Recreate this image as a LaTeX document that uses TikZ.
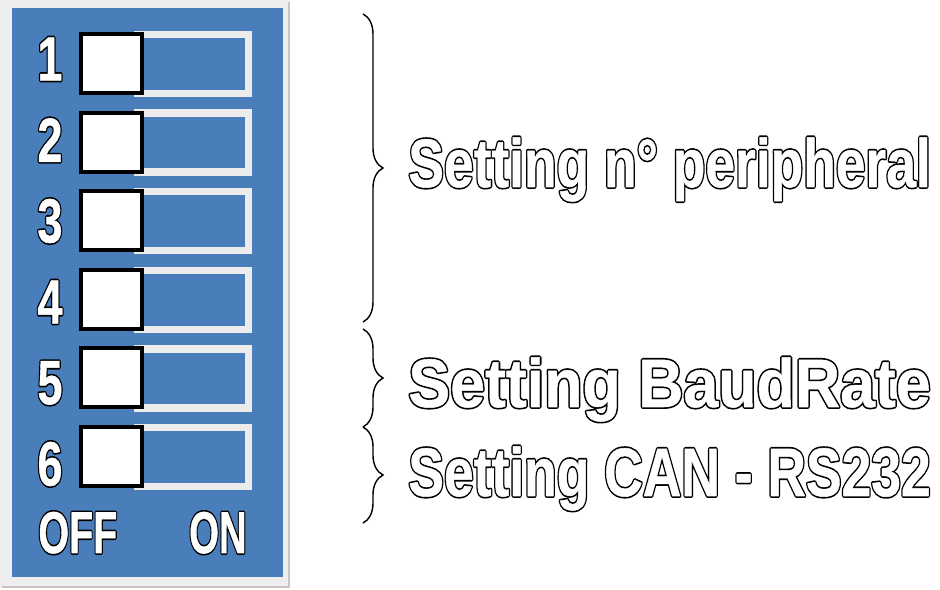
\documentclass[tikz,border=0pt]{standalone}
\usepackage{fontspec}
\setmainfont{Liberation Sans}
\usepackage{graphicx}
\usetikzlibrary{decorations.pathreplacing}

\definecolor{panelblue}{RGB}{74,126,187}
\definecolor{framegray}{RGB}{238,238,238}
\definecolor{slotgray}{RGB}{236,236,236}

% white letters with a black rim (pdf text render mode 2, two layers)
\newcommand{\hollow}[2]{\resizebox{#1}{\height}{%
  \rlap{\special{pdf:bcolor [0] [0]}\special{pdf:literal direct 2 Tr 2.2 w 1 j}#2\special{pdf:ecolor}}%
  \special{pdf:bcolor [1] [1]}\special{pdf:literal direct 2 Tr 0.3 w 1 j}%
  #2\special{pdf:literal direct 0 Tr}\special{pdf:ecolor}}}

\tikzset{
  slot/.style={draw=slotgray, line width=0.15cm, fill=panelblue},
  knob/.style={draw=black, line width=0.08cm, fill=white},
  digit/.style={inner sep=0, font=\bfseries\fontsize{35.5pt}{38pt}\selectfont},
  onoff/.style={inner sep=0, anchor=base, font=\bfseries\fontsize{33.5pt}{36pt}\selectfont},
  setting/.style={inner sep=0, anchor=base west, font=\bfseries\fontsize{39pt}{44pt}\selectfont},
  bracket/.style={decorate, decoration={brace, amplitude=0.4cm}, line width=0.8pt}
}

\begin{document}
\begin{tikzpicture}[x=0.02cm, y=-0.02cm]

\useasboundingbox (0,0) rectangle (940,590);

% dip switch panel
\fill[framegray] (0,0) rectangle (290,588);
\draw[color=gray!45, line width=1pt] (289,2)--(289,587)--(2,587);
\fill[panelblue] (12,8) rectangle (283,577);

\draw[slot] (138, 34.5) rectangle (248.5, 93.5);
\draw[slot] (138,113.1) rectangle (248.5,172.1);
\draw[slot] (138,191.7) rectangle (248.5,250.7);
\draw[slot] (138,270.3) rectangle (248.5,329.3);
\draw[slot] (138,348.9) rectangle (248.5,407.9);
\draw[slot] (138,427.5) rectangle (248.5,486.5);

\draw[knob] (81, 34.0) rectangle (142, 93.0);
\draw[knob] (81,112.6) rectangle (142,171.6);
\draw[knob] (81,191.2) rectangle (142,250.2);
\draw[knob] (81,269.8) rectangle (142,328.8);
\draw[knob] (81,348.4) rectangle (142,407.4);
\draw[knob] (81,427.0) rectangle (142,486.0);

\node[digit] (n1) at (50, 59) {\hollow{0.50cm}{1}};
\node[digit] (n2) at (50,140) {\hollow{0.50cm}{2}};
\node[digit] (n3) at (50,221) {\hollow{0.50cm}{3}};
\node[digit] (n4) at (50,302) {\hollow{0.50cm}{4}};
\node[digit] (n5) at (50,383) {\hollow{0.50cm}{5}};
\node[digit] (n6) at (50,464) {\hollow{0.50cm}{6}};

\node[onoff, anchor=base west] (off) at (38,553) {\hollow{1.58cm}{OFF}};
\node[onoff, anchor=base east] (on) at (247,553) {\hollow{1.15cm}{ON}};

% braces
\coordinate (b1top) at (363,14);
\coordinate (b1bot) at (363,322);
\coordinate (b2top) at (363,329);
\coordinate (b2bot) at (363,427);
\coordinate (b3bot) at (363,523);

\draw[bracket] (b1top)--(b1bot);
\draw[bracket] (b2top)--(b2bot);
\draw[bracket] (b2bot)--(b3bot);

\node[setting] (t1) at (408,187) {\hollow{10.45cm}{Setting n° peripheral}};
\node[setting] (t2) at (408,407) {\hollow{10.45cm}{Setting BaudRate}};
\node[setting] (t3) at (408,496) {\hollow{10.45cm}{Setting CAN - RS232}};

\end{tikzpicture}
\end{document}
